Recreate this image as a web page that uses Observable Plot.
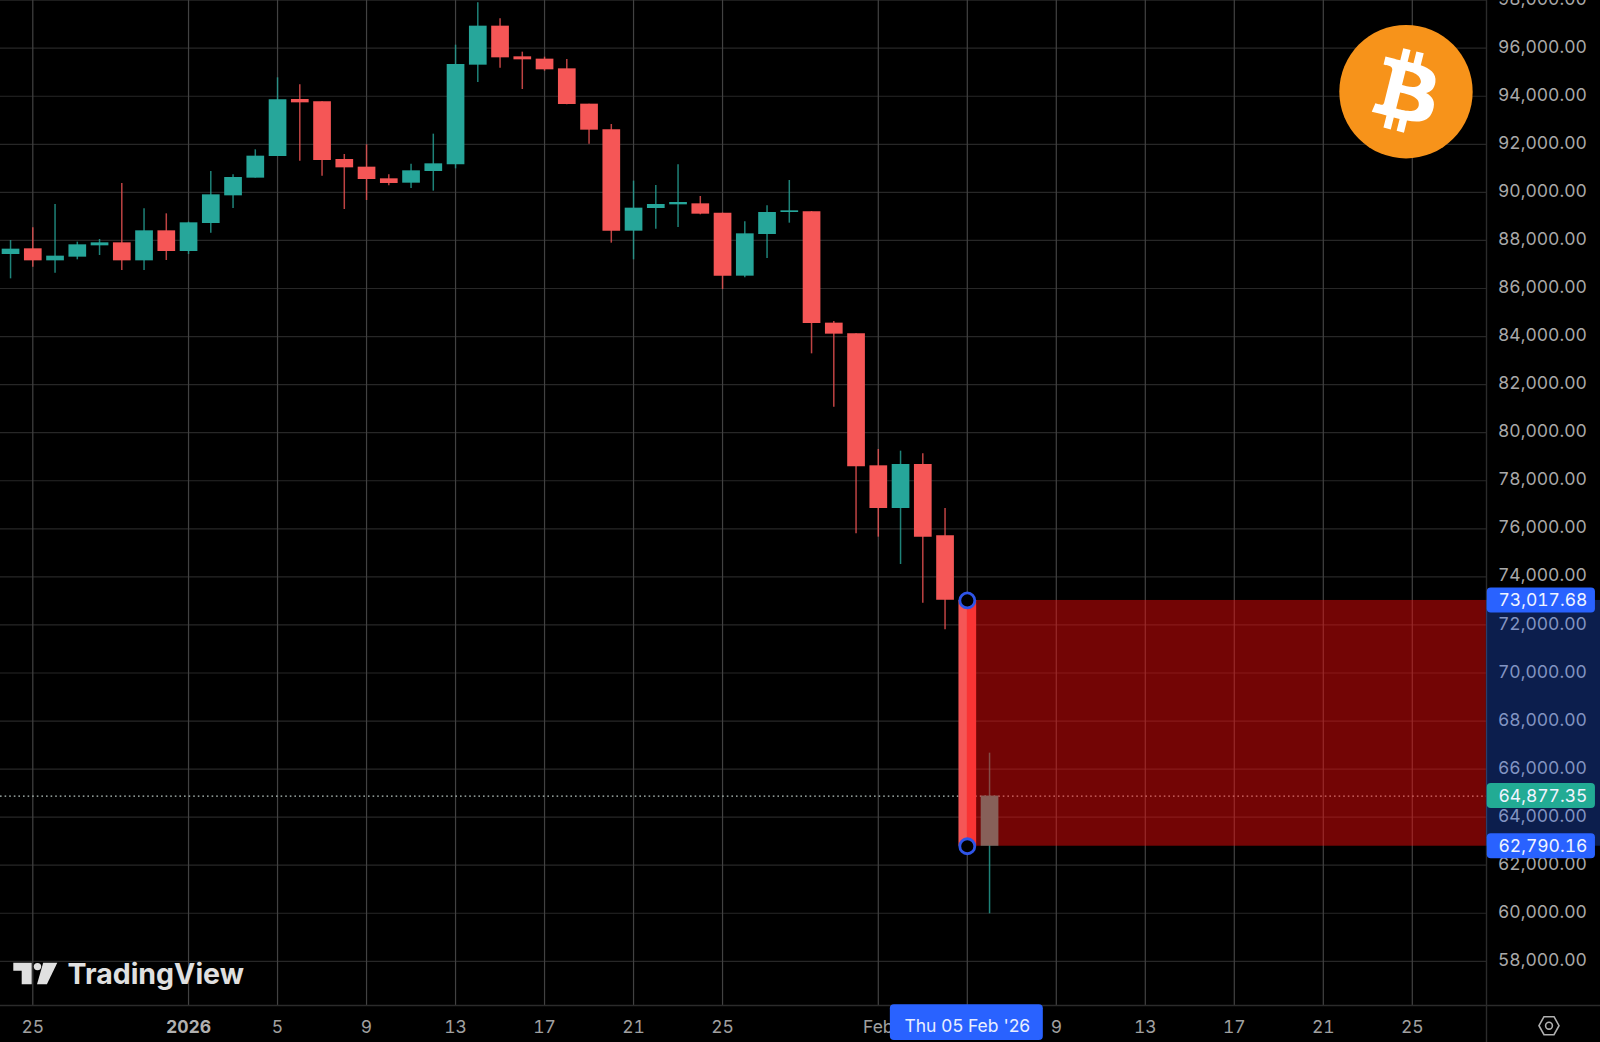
<!DOCTYPE html>
<html>
<head>
<meta charset="utf-8">
<style>
  html, body { margin: 0; padding: 0; background: #000; overflow: hidden; }
  svg { display: block; }
</style>
<script src="https://cdn.jsdelivr.net/npm/d3@7"></script>
<script src="https://cdn.jsdelivr.net/npm/@observablehq/plot@0.6"></script>
</head>
<body>
<script>
const firstDay = "2025-12-24";
const opens  = [87415,87651,87151,87304,87776,87900,87151,88400,87540,88705,89856,90592,91493,93865,93768,91368,91049,90564,90383,90869,91146,95294,96917,95641,95544,95141,93671,92603,88386,89329,89482,89523,89135,86513,88247,89163,89190,84558,84113,78621,76845,78676,75707,73017.68,62790.16];
const highs  = [87998,88525,89496,87928,88039,90370,89315,89107,88760,90869,90730,91771,94767,94476,93768,91576,91979,90730,91174,92423,96126,97888,97222,95835,95627,95530,93671,92825,90467,90286,91146,89829,89135,88774,89440,90494,89204,84627,84113,79300,79231,79120,76845,73017.68,66663];
const lows   = [86402,86888,86638,87193,87373,86749,86749,87165,87415,88303,89329,90592,91493,91299,90675,89288,89662,90272,90162,90051,90980,94573,95169,94281,95044,93643,92006,87887,87193,88469,88538,89066,85958,86444,87249,88719,83281,81062,75791,75652,74515,72906,71796,62790.16,59978];
const closes = [87637,87151,87346,87817,87900,87151,88400,87540,88733,89898,90619,91507,93851,93726,91327,91021,90536,90370,90897,91188,95322,96917,95599,95516,95100,93657,92589,88386,89343,89496,89579,89093,86513,88275,89163,89232,84544,84100,78578,76845,78676,75652,73030,62790.16,64877.35];

const xTickDates = ["2025-12-25","2026-01-05","2026-01-09","2026-01-13","2026-01-17","2026-01-21","2026-01-25","2026-02-01","2026-02-09","2026-02-13","2026-02-17","2026-02-21","2026-02-25"];
const xTickLabels = ["25","5","9","13","17","21","25","Feb","9","13","17","21","25"];
const yearTick = "2026-01-01";
const selectedDay = "2026-02-05";
const selectedLabel = "Thu 05 Feb '26";
const yTicks = [58000,60000,62000,64000,66000,68000,70000,72000,74000,76000,78000,80000,82000,84000,86000,88000,90000,92000,94000,96000,98000];
const rangeTop = 73017.68, rangeBottom = 62790.16, lastPrice = 64877.35;

const FONT = "Inter, sans-serif";
const d = s => new Date(s);
const fmt = d3.format(",.2f");
const candles = opens.map((o, i) => ({
  date: d3.utcDay.offset(d(firstDay), i), open: o, high: highs[i], low: lows[i], close: closes[i],
  color: closes[i] >= o ? "#26a69a" : "#f55656"
}));

const xStart = d("2025-12-23T13:10Z"), xEnd = d("2026-02-28T08:02Z");
const xPageEnd = d("2026-03-05T11:00Z"), xTagEnd = d("2026-03-05T05:33Z"), xTagStart = d("2026-02-28T08:50Z");
const yMin = 56162, yMax = 97985, yPageEnd = 54622;
const allGrid = [...xTickDates, yearTick, selectedDay].map(d);
const sel = d(selectedDay);

const tags = [
  {v: rangeTop, c: "#2962ff"},
  {v: lastPrice, c: "#22ab94"},
  {v: rangeBottom, c: "#2962ff"}
];

function decor() {
  const g = d3.create("svg:g");
  const btc = g.append("g").attr("transform", `translate(${1406 - 66.7},${91.7 - 66.7}) scale(2.084)`);
  btc.append("circle").attr("cx", 32).attr("cy", 32).attr("r", 32).attr("fill", "#f7931a");
  btc.append("path").attr("fill", "#fff").attr("d", "M46.11 27.441c.636-4.258-2.606-6.547-7.039-8.074l1.438-5.768-3.512-.875-1.4 5.616c-.922-.23-1.87-.447-2.812-.662l1.41-5.653-3.509-.875-1.439 5.766c-.764-.174-1.514-.346-2.242-.527l.004-.018-4.842-1.209-.934 3.75s2.605.597 2.55.634c1.422.355 1.68 1.296 1.636 2.042l-1.638 6.571c.098.025.225.061.365.117l-.371-.092-2.297 9.205c-.174.432-.615 1.08-1.609.834.035.051-2.552-.637-2.552-.637l-1.743 4.02 4.57 1.139c.85.213 1.683.436 2.502.646l-1.453 5.835 3.507.875 1.44-5.772c.957.26 1.887.5 2.797.726L27.504 50.8l3.511.875 1.453-5.823c5.987 1.133 10.49.676 12.383-4.738 1.527-4.36-.075-6.875-3.225-8.516 2.294-.531 4.022-2.04 4.483-5.157zM38.087 38.69c-1.086 4.36-8.426 2.004-10.807 1.412l1.928-7.729c2.38.594 10.011 1.77 8.88 6.317zm1.085-11.312c-.99 3.966-7.1 1.951-9.083 1.457l1.748-7.01c1.983.494 7.277 1.416 7.335 5.553z");
  const tv = g.append("g").attr("fill", "#e0e0e0");
  tv.append("path").attr("d", "M13.3 962.7H31.7V984.3H21.7V970.7H13.3Z");
  tv.append("circle").attr("cx", 37.5).attr("cy", 966.6).attr("r", 3.7);
  tv.append("path").attr("d", "M43.2 962.7H57.3L46.9 984.3H37Z");
  const gear = g.append("g").attr("transform", "translate(1549,1025.7)").attr("fill", "none").attr("stroke", "#b0b0b0").attr("stroke-width", 1.6);
  gear.append("path").attr("d", "M-10 0L-5 -9H5L10 0L5 9H-5Z");
  gear.append("circle").attr("r", 3.4);
  return g.node();
}

const chart = Plot.plot({
  width: 1600, height: 1042,
  marginTop: 0, marginLeft: 0, marginRight: 114, marginBottom: 37,
  style: {background: "#000", fontFamily: FONT},
  x: {type: "utc", domain: [xStart, xEnd], label: null},
  y: {domain: [yMin, yMax], label: null},
  marks: [
    Plot.gridY(yTicks, {stroke: "#272727", strokeOpacity: 1, strokeWidth: 1.2}),
    Plot.gridX(allGrid, {stroke: "#424242", strokeOpacity: 1, strokeWidth: 1.2}),
    Plot.ruleY([lastPrice], {stroke: "#b5c4bf", strokeWidth: 1.3, strokeDasharray: "1.6 3"}),
    Plot.ruleX(candles, {x: "date", y1: "low", y2: "high", stroke: "color", strokeWidth: 1.5, strokeOpacity: 0.78}),
    Plot.ruleX(candles, {x: "date", y1: "open", y2: "close", stroke: "color", strokeWidth: 17.7}),
    Plot.rect([{}], {x1: () => sel, x2: () => xEnd, y1: () => rangeBottom, y2: () => rangeTop, fill: "#ff0b0b", fillOpacity: 0.45}),
    Plot.ruleY([yMin], {stroke: "#2b2b2b", strokeWidth: 1.4, x1: () => xStart, x2: () => xPageEnd}),
    Plot.ruleX([xEnd], {stroke: "#2b2b2b", strokeWidth: 1.4, y1: () => yPageEnd, y2: () => yMax}),
    Plot.axisY({anchor: "right", ticks: yTicks, tickSize: 0, tickPadding: 11.5, dy: -1, tickFormat: fmt, label: null, fill: "#a9a9a9", fontSize: 17.5, fontFamily: FONT}),
    Plot.rect([{}], {x1: () => xEnd, x2: () => xPageEnd, y1: () => rangeBottom, y2: () => rangeTop, fill: "#2962ff", fillOpacity: 0.3}),
    Plot.axisX({anchor: "bottom", ticks: xTickDates.map(d), tickSize: 0, tickPadding: 15, tickFormat: t => xTickLabels[xTickDates.map(s => +d(s)).indexOf(+t)], label: null, fill: "#a0a0a0", fontSize: 17.5, fontFamily: FONT}),
    Plot.axisX({anchor: "bottom", ticks: [d(yearTick)], tickSize: 0, tickPadding: 15, tickFormat: () => "2026", label: null, fill: "#b0b0b0", fontSize: 17.5, fontWeight: 700, fontFamily: FONT}),
    Plot.rect(tags, {x1: () => xTagStart, x2: () => xTagEnd, y1: t => t.v - 520, y2: t => t.v + 520, fill: "c", rx: 4}),
    Plot.text(tags, {y: "v", text: t => fmt(t.v), frameAnchor: "right", textAnchor: "start", dx: 12, fill: "#f0f4ff", fontSize: 17.5, fontVariant: "tabular-nums", fontFamily: FONT}),
    Plot.rect([{}], {x1: () => d3.utcHour.offset(sel, -83), x2: () => d3.utcHour.offset(sel, 82), y1: () => 54706, y2: () => yMin + 30, fill: "#2962ff", rx: 4}),
    Plot.text([selectedLabel], {x: () => sel, text: t => t, frameAnchor: "bottom", lineAnchor: "middle", dy: 21, fill: "#e8eeff", fontSize: 17.5, fontFamily: FONT}),
    Plot.dot([rangeTop, rangeBottom], {x: () => sel, y: v => v, r: 7.5, fill: "#000", stroke: "#2f55e8", strokeWidth: 2.8}),
    Plot.text(["TradingView"], {text: t => t, frameAnchor: "bottom-left", lineAnchor: "middle", dx: 67, dy: -31, fill: "#e0e0e0", fontSize: 28.5, fontWeight: 700, fontFamily: FONT}),
    decor
  ]
});
document.body.appendChild(chart);
</script>
</body>
</html>
